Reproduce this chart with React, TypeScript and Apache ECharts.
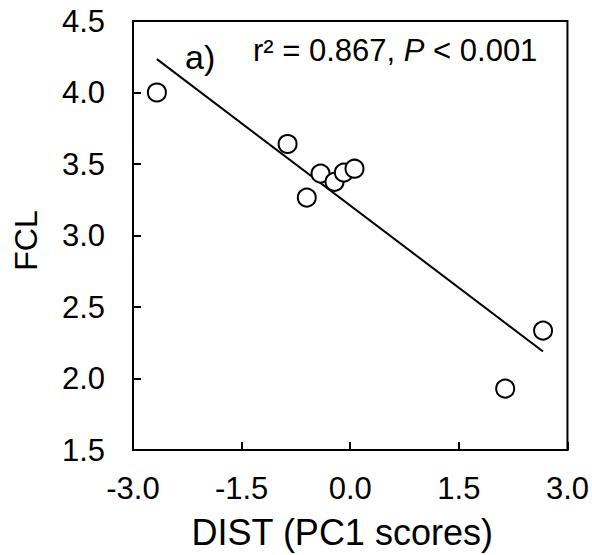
import React, { useEffect, useRef } from "react";
import * as echarts from "echarts";

const distScores = [-2.67, -0.865, -0.41, -0.217, -0.088, 0.059, -0.6, 2.14, 2.663];
const fclValues = [4.0, 3.64, 3.433, 3.375, 3.44, 3.467, 3.265, 1.929, 2.335];
const panelLabel = "a)";
const statsPrefix = "r² = 0.867, ";
const statsItalic = "P";
const statsSuffix = " < 0.001";
const xAxisTitle = "DIST (PC1 scores)";
const yAxisTitle = "FCL";

const FONT = "'Liberation Sans', Arial, sans-serif";

function regressionLine(xs: number[], ys: number[]) {
  const n = xs.length;
  const mx = xs.reduce((a, b) => a + b, 0) / n;
  const my = ys.reduce((a, b) => a + b, 0) / n;
  let sxy = 0;
  let sxx = 0;
  for (let i = 0; i < n; i++) {
    sxy += (xs[i] - mx) * (ys[i] - my);
    sxx += (xs[i] - mx) * (xs[i] - mx);
  }
  const slope = sxy / sxx;
  const intercept = my - slope * mx;
  const x0 = Math.min(...xs);
  const x1 = Math.max(...xs);
  return [
    [x0, intercept + slope * x0],
    [x1, intercept + slope * x1],
  ];
}

export default function App() {
  const ref = useRef<HTMLDivElement>(null);
  useEffect(() => {
    if (!ref.current) return;
    const chart = echarts.init(ref.current, undefined, { renderer: "svg" });
    const points = distScores.map((x, i) => [x, fclValues[i]]);
    chart.setOption({
      animation: false,
      backgroundColor: "#ffffff",
      grid: {
        left: 133,
        top: 21,
        right: 24,
        bottom: 101,
        show: true,
        borderColor: "#000",
        borderWidth: 2,
        backgroundColor: "transparent",
      },
      xAxis: {
        type: "value",
        min: -3,
        max: 3,
        interval: 1.5,
        name: xAxisTitle,
        nameLocation: "middle",
        nameGap: 64,
        nameTextStyle: { fontFamily: FONT, fontSize: 36, color: "#000", padding: [0, 16, 0, 0] },
        axisLine: { show: true, onZero: false, lineStyle: { color: "#000", width: 2 } },
        axisTick: { show: true, inside: true, length: 8, lineStyle: { color: "#000", width: 2 } },
        axisLabel: {
          fontFamily: FONT,
          fontSize: 31,
          color: "#000",
          margin: 23,
          formatter: (v: number) => v.toFixed(1),
        },
        splitLine: { show: false },
      },
      yAxis: {
        type: "value",
        min: 1.5,
        max: 4.5,
        interval: 0.5,
        name: yAxisTitle,
        nameLocation: "middle",
        nameGap: 91,
        nameTextStyle: { fontFamily: FONT, fontSize: 32, color: "#000", padding: [0, 10, 0, 0] },
        axisLine: { show: true, onZero: false, lineStyle: { color: "#000", width: 2 } },
        axisTick: { show: true, inside: true, length: 8, lineStyle: { color: "#000", width: 2 } },
        axisLabel: {
          fontFamily: FONT,
          fontSize: 31,
          color: "#000",
          margin: 28,
          formatter: (v: number) => v.toFixed(1),
        },
        splitLine: { show: false },
      },
      graphic: [
        {
          type: "text",
          left: 185,
          top: 40,
          style: { text: panelLabel, font: `34px ${FONT}`, fill: "#000" },
        },
        {
          type: "text",
          left: 253,
          top: 35,
          style: {
            text: `{n|${statsPrefix}}{i|${statsItalic}}{n|${statsSuffix}}`,
            rich: {
              n: { fontFamily: FONT, fontSize: 31, fill: "#000", color: "#000" },
              i: { fontFamily: FONT, fontSize: 31, fontStyle: "italic", fill: "#000", color: "#000" },
            },
          },
        },
      ],
      series: [
        {
          type: "line",
          data: regressionLine(distScores, fclValues),
          showSymbol: false,
          symbol: "none",
          lineStyle: { color: "#000", width: 2 },
          z: 2,
        },
        {
          type: "scatter",
          data: points,
          symbol: "circle",
          symbolSize: 18,
          itemStyle: { color: "#fff", borderColor: "#000", borderWidth: 2, opacity: 1 },
          z: 3,
        },
      ],
    });
    return () => chart.dispose();
  }, []);
  return (
    <div
      ref={ref}
      style={{ position: "absolute", left: 0, top: 0, width: 592, height: 555 }}
    />
  );
}
